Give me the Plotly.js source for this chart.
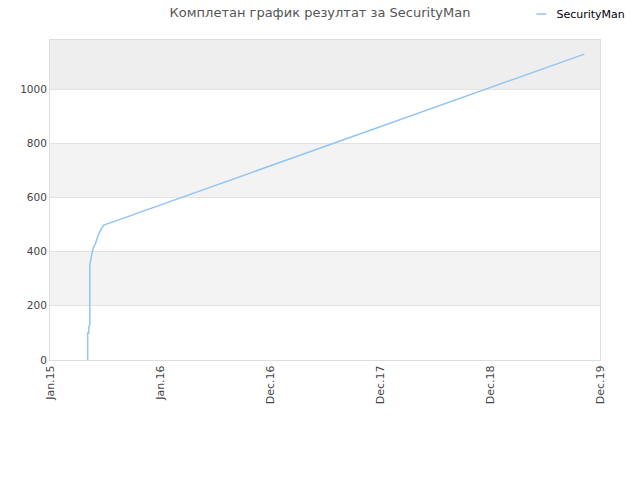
<!DOCTYPE html>
<html>
<head>
<meta charset="utf-8">
<script src="https://cdn.plot.ly/plotly-3.0.1.min.js"></script>
<style>html,body{margin:0;padding:0;background:#fff;}#chart{width:640px;height:480px;}</style>
</head>
<body>
<div id="chart"></div>
<script>
var seriesName = 'SecurityMan';
var dates = ['2015-05-06','2015-05-06','2015-05-10','2015-05-10','2015-05-13','2015-05-13','2015-05-19','2015-05-24','2015-06-01','2015-06-10','2015-06-21','2015-06-29','2019-11-09'];
var values = [0, 100, 100, 123, 130, 350, 387, 412, 430, 461, 486, 498, 1129];
var tickDates = ['2015-01-01','2016-01-01','2016-12-31','2017-12-31','2018-12-31','2019-12-31'];
var tickLabels = ['Jan.15','Jan.16','Dec.16','Dec.17','Dec.18','Dec.19'];
var yTicks = [0, 200, 400, 600, 800, 1000];
var bands = [[200, 400, '#f3f3f3'], [600, 800, '#f3f3f3'], [1000, 1181, '#eeeeee']];

var shapes = bands.map(function (b) {
  return {type: 'rect', xref: 'paper', yref: 'y', x0: 0, x1: 1, y0: b[0], y1: b[1],
          fillcolor: b[2], line: {width: 0}, layer: 'below'};
});

var trace = {
  x: dates, y: values, type: 'scatter', mode: 'lines', name: seriesName,
  line: {color: '#93c5f3', width: 1.5}
};

var layout = {
  width: 640, height: 480,
  margin: {l: 50, r: 40, t: 40, b: 120, autoexpand: false},
  paper_bgcolor: '#ffffff', plot_bgcolor: '#ffffff',
  font: {family: 'DejaVu Sans, Verdana, sans-serif', size: 11, color: '#444'},
  title: {text: 'Комплетан график резултат за SecurityMan', font: {size: 13, color: '#555'},
          x: 0.5, xref: 'container', y: 0.975, yanchor: 'middle'},
  showlegend: true,
  legend: {xref: 'container', yref: 'container', x: 0.985, xanchor: 'right', y: 0.971, yanchor: 'middle',
           bgcolor: 'rgba(0,0,0,0)', itemwidth: 30, font: {size: 11, color: '#000'}},
  shapes: shapes,
  xaxis: {type: 'date', range: ['2015-01-01', '2019-12-31'], tickmode: 'array',
          tickvals: tickDates, ticktext: tickLabels, tickangle: -90,
          showgrid: false, showline: true, linecolor: '#dddddd', mirror: true,
          zeroline: false, ticks: '', automargin: false, tickfont: {size: 11, color: '#444'}},
  yaxis: {range: [0, 1181], tickmode: 'array', tickvals: yTicks, automargin: false,
          showgrid: true, gridcolor: '#e3e3e3', showline: true, linecolor: '#dddddd', mirror: true,
          zeroline: false, ticks: '', tickfont: {size: 10.5, color: '#444'}}
};

Plotly.newPlot('chart', [trace], layout, {displayModeBar: false, staticPlot: true}).then(function (gd) {
  var paths = gd.querySelectorAll('.legend .legendlines path');
  paths.forEach(function (p) { p.setAttribute('d', 'M20,0h10'); });
});
</script>
</body>
</html>
